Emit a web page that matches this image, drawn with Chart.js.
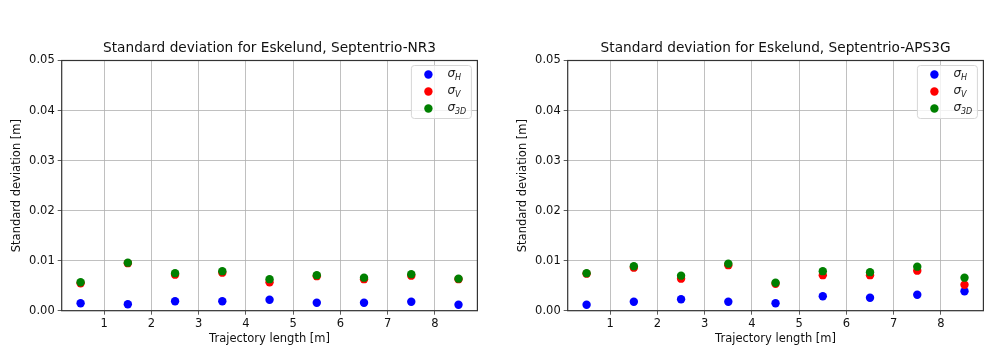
<!DOCTYPE html>
<html>
<head>
<meta charset="utf-8">
<script src="https://cdn.jsdelivr.net/npm/chart.js@4.4.1/dist/chart.umd.min.js"></script>
<style>
  html, body { margin: 0; padding: 0; background: #fff; overflow: hidden; }
  .wrap { position: absolute; top: 0; width: 500px; height: 363px; }
</style>
</head>
<body>
<div class="wrap" style="left:0"><canvas id="chartNR3" width="500" height="363"></canvas></div>
<div class="wrap" style="left:506px"><canvas id="chartAPS" width="500" height="363"></canvas></div>
<script>
const xValues = [0.5, 1.5, 2.5, 3.5, 4.5, 5.5, 6.5, 7.5, 8.5];
const xTicks = [1, 2, 3, 4, 5, 6, 7, 8];
const yTicks = [0, 0.01, 0.02, 0.03, 0.04, 0.05];

// Septentrio-NR3
const nr3H = [0.0015, 0.0013, 0.0019, 0.0019, 0.0022, 0.0016, 0.0016, 0.0018, 0.0012];
const nr3V = [0.0055, 0.0095, 0.0072, 0.0076, 0.0057, 0.0069, 0.0063, 0.0070, 0.0063];
const nr33D = [0.0057, 0.0096, 0.0075, 0.0079, 0.0063, 0.0071, 0.0066, 0.0073, 0.0064];

// Septentrio-APS3G
const apsH = [0.0012, 0.0018, 0.0023, 0.0018, 0.0015, 0.0029, 0.0026, 0.0032, 0.0039];
const apsV = [0.0074, 0.0086, 0.0064, 0.0091, 0.0054, 0.0071, 0.0071, 0.0080, 0.0052];
const aps3D = [0.0075, 0.0089, 0.0070, 0.0094, 0.0056, 0.0079, 0.0077, 0.0088, 0.0066];

const legendSubs = ["H", "V", "3D"];
const colors = ["#0000ff", "#ff0000", "#008000"];
const FONT = "'DejaVu Sans', sans-serif";

const toPoints = (ys) => ys.map((y, i) => ({ x: xValues[i], y: y }));

// frame, title and matplotlib style legend
const framePlugin = {
  id: "frame",
  afterDatasetsDraw(chart, args, opts) {
    const ctx = chart.ctx;
    const a = chart.chartArea;
    ctx.save();
    ctx.strokeStyle = "#333";
    ctx.lineWidth = 1.2;
    ctx.strokeRect(a.left, a.top, a.right - a.left, a.bottom - a.top);

    // title centred over the axes
    ctx.fillStyle = "#111";
    ctx.font = "13.7px " + FONT;
    ctx.textAlign = "center";
    ctx.textBaseline = "middle";
    ctx.fillText(opts.text, (a.left + a.right) / 2, a.top - 12);
    ctx.textAlign = "left";

    // legend box
    const w = 60, h = 53;
    const bx = a.right - 6 - w, by = a.top + 5;
    ctx.fillStyle = "rgba(255,255,255,0.8)";
    ctx.strokeStyle = "#d6d6d6";
    ctx.lineWidth = 1;
    ctx.beginPath();
    ctx.roundRect(bx, by, w, h, 3);
    ctx.fill();
    ctx.stroke();

    chart.data.datasets.forEach((ds, i) => {
      const cy = by + 9 + i * 17;
      ctx.fillStyle = ds.backgroundColor;
      ctx.beginPath();
      ctx.arc(bx + 17, cy, 4.2, 0, Math.PI * 2);
      ctx.fill();
      ctx.fillStyle = "#222";
      ctx.textBaseline = "middle";
      ctx.font = "italic 12px " + FONT;
      ctx.fillText("σ", bx + 36, cy - 1);
      const sw = ctx.measureText("σ").width;
      ctx.font = "italic 8px " + FONT;
      ctx.fillText(legendSubs[i], bx + 36 + sw, cy + 3);
    });
    ctx.restore();
  },
};

function makeChart(id, title, hVals, vVals, dVals) {
  new Chart(document.getElementById(id), {
    type: "scatter",
    data: {
      datasets: [
        { label: "σH", data: toPoints(hVals), backgroundColor: colors[0], borderWidth: 0, pointRadius: 4.2, order: 2 },
        { label: "σV", data: toPoints(vVals), backgroundColor: colors[1], borderWidth: 0, pointRadius: 4.2, order: 1 },
        { label: "σ3D", data: toPoints(dVals), backgroundColor: colors[2], borderWidth: 0, pointRadius: 4.2, order: 0 },
      ],
    },
    options: {
      responsive: false,
      animation: false,
      devicePixelRatio: 1,
      layout: { padding: { left: 0, right: 22.6, top: 60.5, bottom: 0 } },
      plugins: {
        legend: { display: false },
        tooltip: { enabled: false },
        title: { display: false },
        frame: { text: title },
      },
      scales: {
        x: {
          type: "linear",
          min: 0.1,
          max: 8.9,
          afterBuildTicks: (scale) => {
            scale.ticks = xTicks.map((v) => ({ value: v }));
          },
          afterFit: (scale) => {
            scale.height = 52.3;
          },
          grid: { color: "#b0b0b0", lineWidth: 0.8, tickColor: "#333", tickLength: 4 },
          border: { display: false },
          ticks: { color: "#111", font: { family: FONT, size: 11.5 }, padding: 2, maxRotation: 0 },
          title: {
            display: true,
            text: "Trajectory length [m]",
            color: "#111",
            font: { family: FONT, size: 11.5 },
            padding: { top: 0, bottom: 17 },
          },
        },
        y: {
          min: 0,
          max: 0.05,
          afterBuildTicks: (scale) => {
            scale.ticks = yTicks.map((v) => ({ value: v }));
          },
          afterFit: (scale) => {
            scale.width = 61.7;
          },
          grid: { color: "#b0b0b0", lineWidth: 0.8, tickColor: "#333", tickLength: 4 },
          border: { display: false },
          ticks: {
            color: "#111",
            font: { family: FONT, size: 11.5 },
            padding: 3,
            callback: (v) => v.toFixed(2),
          },
          title: {
            display: true,
            text: "Standard deviation [m]",
            color: "#111",
            font: { family: FONT, size: 11.5 },
            padding: { top: 10 },
          },
        },
      },
    },
    plugins: [framePlugin],
  });
}

makeChart("chartNR3", "Standard deviation for Eskelund, Septentrio-NR3", nr3H, nr3V, nr33D);
makeChart("chartAPS", "Standard deviation for Eskelund, Septentrio-APS3G", apsH, apsV, aps3D);
</script>
</body>
</html>
